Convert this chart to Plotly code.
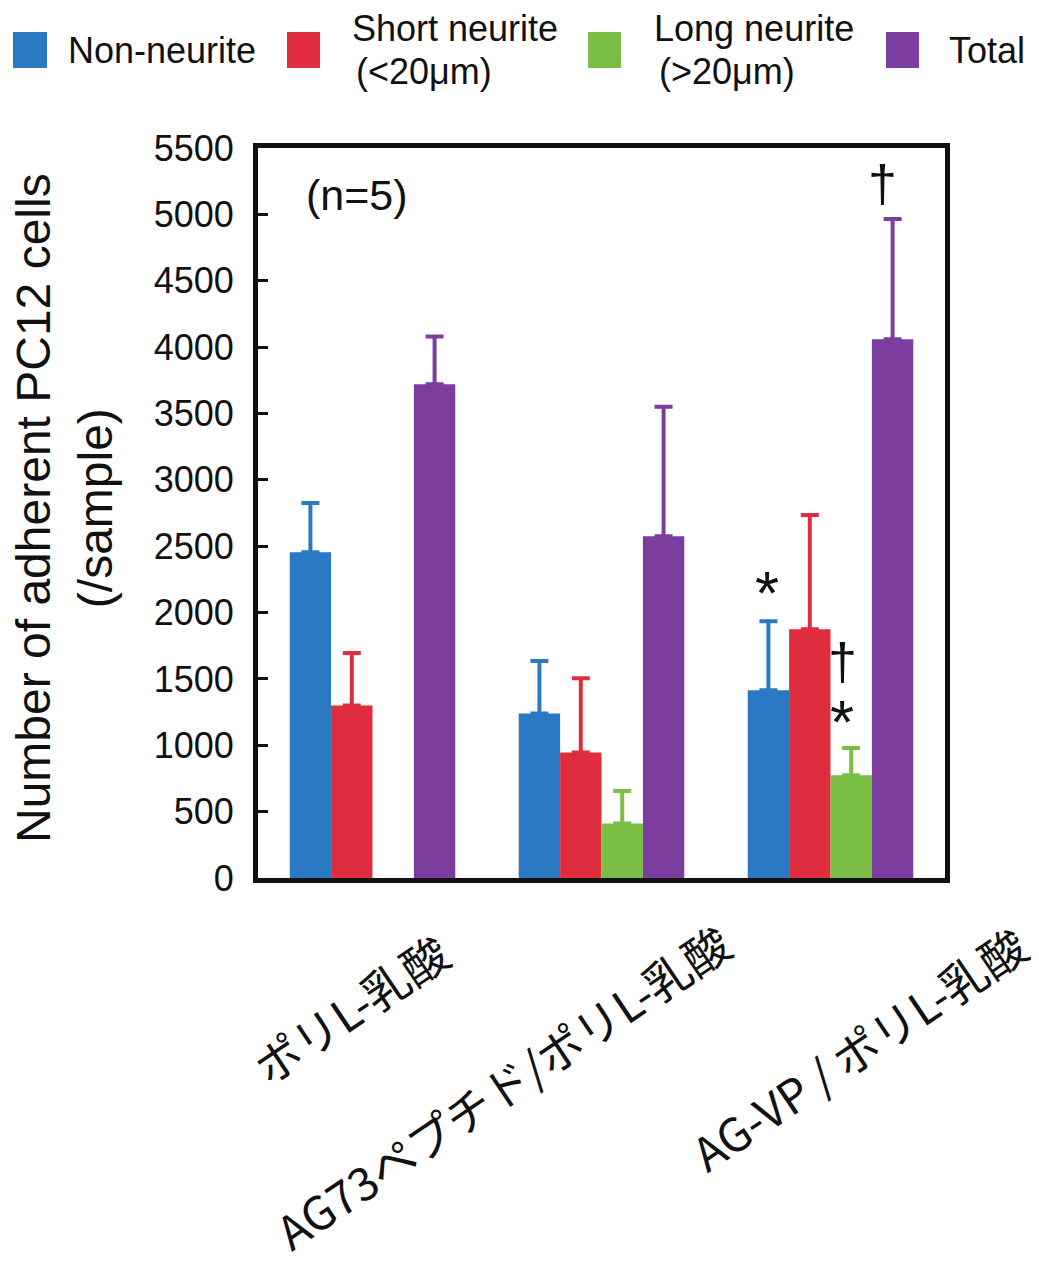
import plotly.graph_objects as go

# ---------------- data ----------------
categories = ["ポリL-乳酸", "AG73ペプチド/ポリL-乳酸", "AG-VP / ポリL-乳酸"]
series_names = ["Non-neurite", "Short neurite (<20μm)", "Long neurite (>20μm)", "Total"]

non_neurite = [2455, 1240, 1415]
non_neurite_sd = [370, 395, 520]

short_neurite = [1300, 945, 1875]
short_neurite_sd = [395, 560, 860]

long_neurite = [None, 410, 775]
long_neurite_sd = [None, 245, 205]

total = [3720, 2575, 4060]
total_sd = [360, 975, 905]

y_ticks = [0, 500, 1000, 1500, 2000, 2500, 3000, 3500, 4000, 4500, 5000, 5500]

# ---------------- style ----------------
OFF = 8  # page body margin
W, H = 1039 - OFF, 1263 - OFF
L, T = 258 - OFF, 148 - OFF
R = W - (945 - OFF)
B = H - (878 - OFF)
PW, PH = W - L - R, H - T - B

colors = ["#2B79C3", "#DE2E3D", "#7BBE46", "#7C3E9E"]
LAT = "Liberation Sans, Arial, sans-serif"
JP = "Noto Sans CJK JP, sans-serif"


def px(x):
    # page pixel -> paper fraction
    return (x - OFF - L) / PW


def py(y):
    return (H - B - (y - OFF)) / PH


series_vals = [non_neurite, short_neurite, long_neurite, total]
series_sds = [non_neurite_sd, short_neurite_sd, long_neurite_sd, total_sd]

fig = go.Figure()
for name, vals, sds, col in zip(series_names, series_vals, series_sds, colors):
    fig.add_trace(go.Bar(
        name=name,
        x=categories,
        y=vals,
        marker=dict(color=col, line=dict(width=0)),
        error_y=dict(
            type="data", symmetric=False,
            array=sds, arrayminus=[0 if s is not None else None for s in sds],
            color=col, thickness=4, width=9,
        ),
        showlegend=False,
    ))

annotations = []
shapes = []

# manual legend
legend_items = [
    (13, 47, ["Non-neurite"], [(162, 50)]),
    (287, 320, ["Short neurite", "(<20μm)"], [(455, 28), (424, 72)]),
    (588, 621, ["Long neurite", "(>20μm)"], [(754, 28), (727, 72)]),
    (886, 919, ["Total"], [(987, 50)]),
]
for (x0, x1, texts, poss), col in zip(legend_items, colors):
    shapes.append(dict(type="rect", xref="paper", yref="paper",
                       x0=px(x0), x1=px(x1), y0=py(68), y1=py(32),
                       fillcolor=col, line=dict(width=0)))
    for t, (cx, cy) in zip(texts, poss):
        annotations.append(dict(text=t, xref="paper", yref="paper",
                                x=px(cx), y=py(cy), xanchor="center", yanchor="middle",
                                showarrow=False, font=dict(family=LAT, size=36, color="#111")))

# y-axis title
annotations.append(dict(text="Number of adherent PC12 cells<br>(/sample)",
                        xref="paper", yref="paper", x=px(64), y=py(508),
                        xanchor="center", yanchor="middle", textangle=-90,
                        showarrow=False, font=dict(family=LAT, size=48, color="#111")))

# (n=5)
annotations.append(dict(text="(n=5)", xref="paper", yref="paper", x=px(357), y=py(195),
                        xanchor="center", yanchor="middle", showarrow=False,
                        font=dict(family=LAT, size=43, color="#111")))

# significance marks (text, x, y, size)
marks = [("*", 767, 592, 62), ("†", 842, 662, 52), ("*", 842, 721, 62), ("†", 882, 184, 52)]
for t, cx, cy, sz in marks:
    annotations.append(dict(text=t, xref="paper", yref="paper", x=px(cx), y=py(cy),
                            xanchor="center", yanchor="middle", showarrow=False,
                            font=dict(family=LAT, size=sz, color="#111")))

# rotated category labels
label_centers = [(350, 1008), (502, 1086), (858, 1048)]
for cat, (cx, cy) in zip(categories, label_centers):
    annotations.append(dict(text=cat, xref="paper", yref="paper", x=px(cx), y=py(cy),
                            xanchor="center", yanchor="middle", textangle=-34,
                            borderpad=0, showarrow=False,
                            font=dict(family=JP, size=46, color="#111")))

fig.update_layout(
    width=W, height=H,
    margin=dict(l=L, r=R, t=T, b=B, autoexpand=False),
    paper_bgcolor="white", plot_bgcolor="white",
    barmode="group", bargap=0.277, bargroupgap=0,
    annotations=annotations, shapes=shapes,
    showlegend=False,
)
fig.update_xaxes(
    showline=True, linewidth=5, linecolor="#111", mirror=True,
    showticklabels=False, ticks="", showgrid=False,
)
fig.update_yaxes(
    range=[0, 5500], tickvals=y_ticks,
    showline=True, linewidth=5, linecolor="#111", mirror=True,
    ticks="inside", ticklen=10, tickwidth=3, tickcolor="#111",
    showgrid=False, zeroline=False,
    tickfont=dict(family=LAT, size=36, color="#111"),
    ticklabelstandoff=12,
)

fig.write_html("out.html")
